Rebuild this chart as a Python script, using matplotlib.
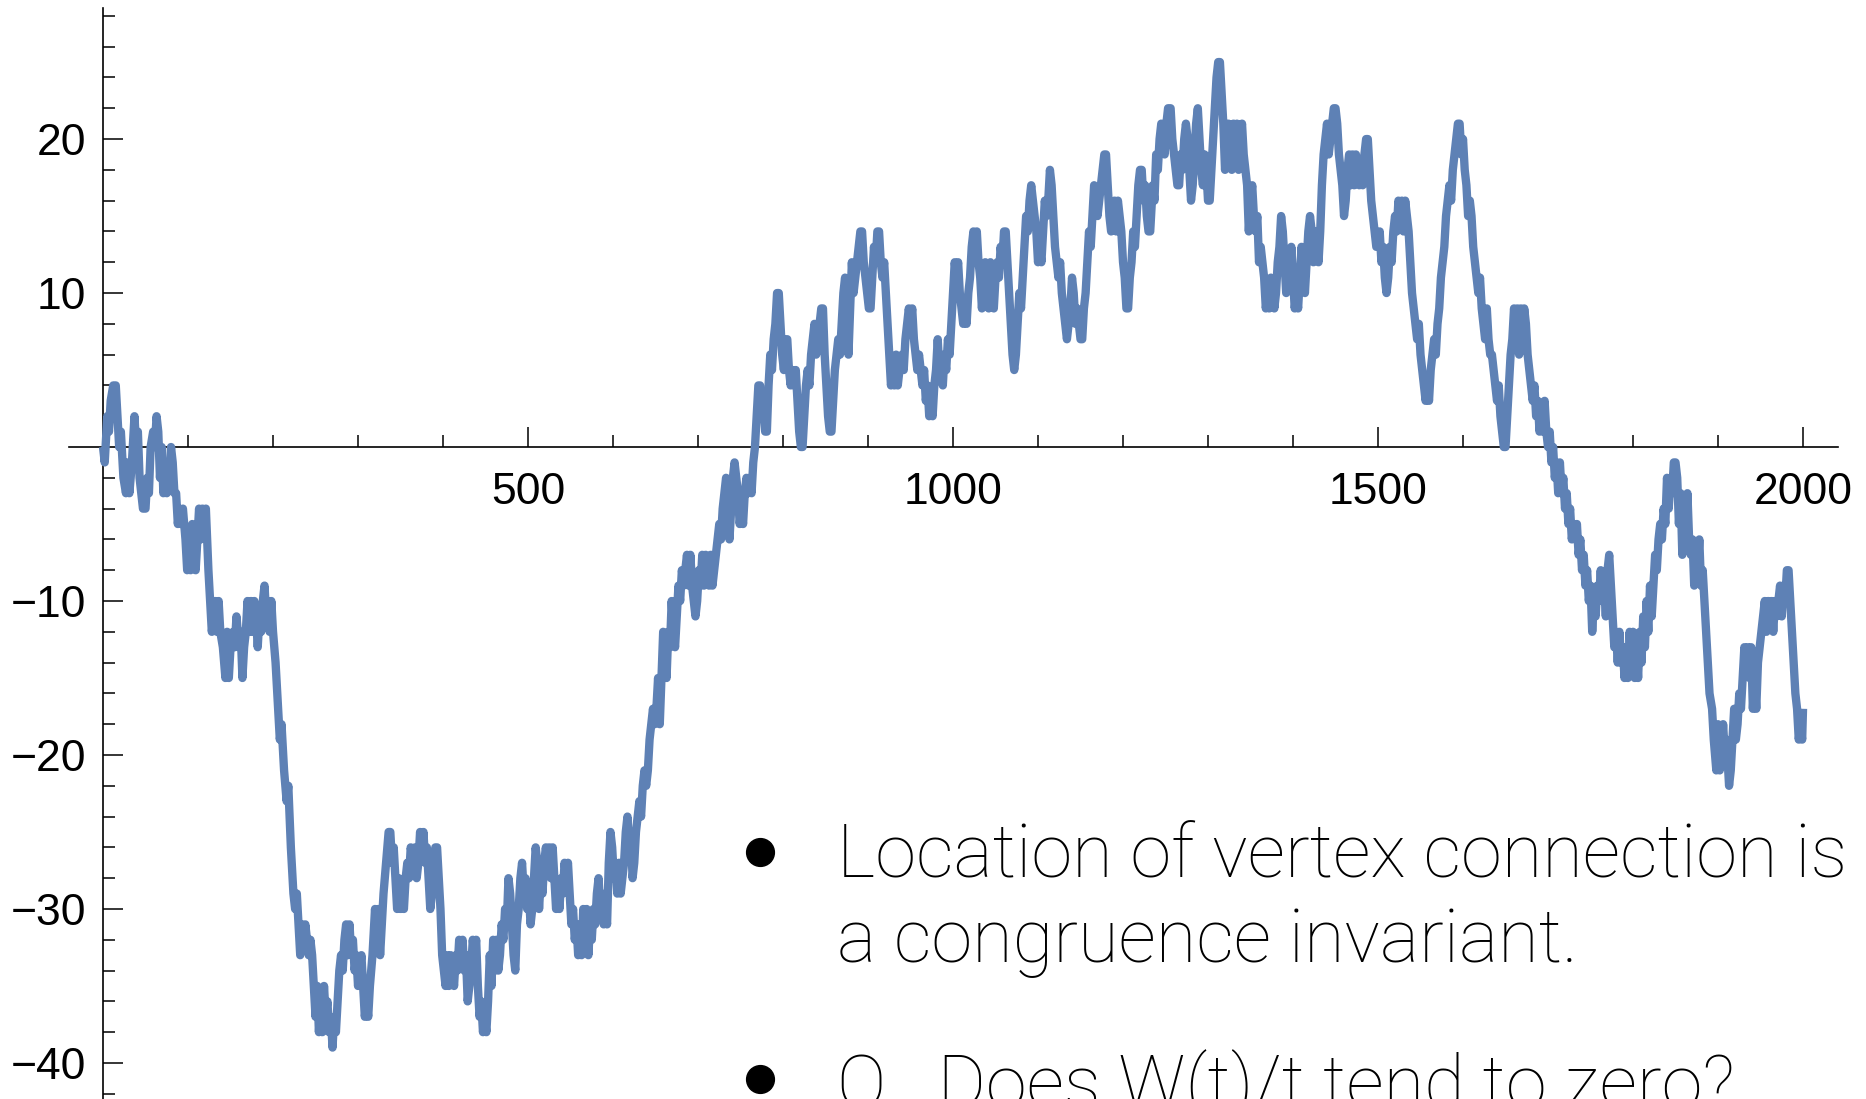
import matplotlib
matplotlib.use("Agg")
import matplotlib.pyplot as plt
from matplotlib.lines import Line2D

# turning points (t, W(t)) of the walk
walk_turns = [
    (0, 0), (2, -1), (5, 2), (7, 1), (9, 3), (12, 4), (15, 4), (17, 2), (19, 0), (21, 1),
    (24, -2), (27, -3), (29, -1), (31, -3), (34, -1), (37, 2), (39, 0), (41, 1), (43, -2), (47, -4),
    (50, -4), (52, -2), (54, -3), (56, 0), (59, 1), (61, 0), (63, 2), (65, 1), (67, -2), (69, 0),
    (71, -3), (73, -1), (75, -3), (78, -2), (80, 0), (82, -1), (84, -3), (86, -3), (88, -5), (90, -4),
    (92, -5), (94, -4), (97, -6), (99, -8), (101, -6), (103, -8), (105, -5), (107, -7), (109, -8), (111, -6),
    (113, -4), (115, -6), (117, -4), (119, -5), (121, -4), (124, -8), (126, -10), (128, -12), (130, -11), (132, -10),
    (134, -12), (136, -10), (138, -12), (141, -13), (144, -15), (146, -12), (148, -15), (150, -13), (153, -12), (155, -13),
    (157, -11), (160, -13), (162, -12), (164, -15), (166, -13), (168, -12), (170, -10), (172, -12), (174, -10), (176, -12),
    (178, -10), (180, -11), (182, -13), (184, -11), (186, -12), (188, -10), (190, -9), (192, -11), (194, -10), (196, -12),
    (198, -10), (200, -12), (203, -14), (206, -17), (208, -19), (210, -18), (213, -21), (216, -23), (218, -22), (221, -26),
    (224, -29), (226, -30), (228, -29), (230, -31), (232, -33), (234, -31), (236, -32), (238, -31), (240, -32), (242, -33),
    (244, -32), (246, -33), (248, -35), (250, -37), (252, -35), (254, -38), (256, -36), (258, -38), (260, -35), (262, -37),
    (264, -36), (266, -38), (268, -37), (270, -39), (272, -37), (274, -38), (276, -36), (278, -34), (280, -33), (282, -34),
    (284, -32), (286, -31), (288, -33), (290, -31), (292, -33), (294, -32), (296, -34), (298, -33), (300, -35), (302, -34),
    (304, -33), (306, -35), (308, -37), (310, -36), (312, -37), (314, -35), (317, -33), (320, -30), (322, -32), (324, -30),
    (326, -33), (328, -31), (330, -29), (333, -27), (336, -25), (338, -25), (340, -27), (342, -26), (344, -28), (346, -30),
    (348, -28), (350, -30), (352, -29), (354, -30), (356, -28), (358, -27), (360, -28), (362, -26), (365, -27), (367, -26),
    (369, -28), (371, -27), (373, -25), (375, -26), (377, -25), (379, -27), (381, -26), (383, -28), (385, -30), (387, -29),
    (389, -27), (391, -26), (393, -26), (395, -28), (397, -30), (399, -33), (401, -34), (403, -35), (405, -33), (407, -35),
    (409, -33), (411, -34), (413, -35), (415, -33), (417, -34), (419, -32), (421, -33), (423, -32), (425, -34), (427, -33),
    (429, -36), (431, -35), (433, -34), (435, -32), (437, -33), (439, -32), (441, -35), (443, -37), (445, -36), (447, -38),
    (449, -37), (451, -38), (453, -36), (455, -33), (457, -35), (459, -32), (461, -34), (463, -32), (465, -34), (467, -33),
    (469, -31), (471, -32), (473, -30), (475, -31), (477, -28), (479, -29), (481, -31), (483, -33), (485, -34), (487, -31),
    (489, -30), (491, -28), (493, -27), (495, -29), (497, -28), (499, -30), (501, -29), (503, -31), (505, -30), (507, -28),
    (509, -26), (511, -27), (513, -30), (515, -28), (517, -29), (519, -27), (521, -26), (523, -27), (525, -26), (527, -28),
    (529, -26), (531, -28), (533, -30), (535, -29), (537, -30), (539, -28), (541, -29), (543, -27), (545, -28), (547, -27),
    (549, -29), (551, -31), (553, -30), (555, -32), (557, -31), (559, -33), (561, -31), (563, -33), (565, -30), (567, -32),
    (569, -30), (571, -33), (573, -31), (575, -32), (577, -30), (579, -31), (581, -29), (583, -28), (585, -30), (587, -29),
    (589, -31), (591, -30), (593, -31), (595, -27), (597, -25), (599, -26), (601, -28), (603, -27), (605, -29), (607, -27),
    (609, -29), (611, -28), (613, -27), (615, -25), (617, -24), (619, -26), (621, -25), (623, -28), (625, -27), (627, -25),
    (629, -24), (631, -23), (633, -24), (635, -22), (637, -21), (639, -22), (641, -21), (643, -19), (645, -18), (647, -17),
    (649, -18), (651, -17), (653, -15), (655, -18), (657, -15), (659, -12), (661, -14), (663, -15), (665, -12), (667, -13),
    (669, -10), (671, -12), (673, -13), (675, -11), (677, -9), (679, -10), (681, -8), (683, -9), (685, -8), (687, -7),
    (689, -9), (691, -7), (693, -9), (695, -10), (697, -11), (699, -10), (701, -8), (703, -9), (705, -7), (707, -9),
    (709, -7), (711, -8), (713, -9), (715, -7), (717, -9), (719, -8), (721, -7), (723, -6), (725, -5), (727, -6),
    (729, -4), (731, -3), (733, -2), (735, -3), (737, -6), (739, -4), (741, -2), (743, -1), (745, -2), (747, -3),
    (749, -5), (751, -4), (753, -5), (755, -3), (757, -2), (759, -3), (761, -2), (763, -3), (765, -1), (767, 0),
    (769, 2), (771, 4), (773, 4), (775, 2), (777, 3), (779, 1), (781, 1), (783, 4), (785, 6), (787, 5),
    (789, 7), (791, 8), (793, 10), (795, 10), (797, 8), (799, 6), (801, 5), (803, 7), (805, 7), (807, 5),
    (809, 4), (811, 5), (813, 4), (815, 5), (817, 3), (819, 1), (821, 0), (823, 0), (825, 2), (827, 4),
    (829, 5), (831, 4), (833, 6), (835, 7), (837, 8), (839, 6), (841, 7), (843, 8), (845, 9), (847, 9),
    (849, 6), (851, 4), (853, 2), (855, 1), (857, 1), (859, 3), (861, 5), (863, 6), (865, 7), (867, 6),
    (869, 8), (871, 10), (873, 11), (875, 8), (877, 6), (879, 9), (881, 12), (883, 10), (885, 11), (887, 12),
    (889, 13), (891, 14), (893, 14), (895, 12), (897, 11), (899, 10), (901, 9), (903, 9), (905, 11), (907, 13),
    (909, 12), (911, 14), (913, 14), (915, 12), (917, 11), (919, 12), (921, 10), (923, 8), (925, 6), (927, 4),
    (929, 5), (931, 4), (933, 6), (935, 4), (937, 5), (940, 6), (942, 5), (944, 7), (946, 8), (948, 9),
    (950, 8), (952, 9), (954, 7), (956, 6), (958, 5), (960, 6), (962, 5), (964, 4), (966, 5), (968, 3),
    (970, 4), (972, 2), (974, 3), (976, 2), (978, 4), (980, 5), (982, 7), (984, 5), (986, 6), (988, 4),
    (990, 6), (992, 5), (994, 7), (996, 6), (998, 8), (1000, 10), (1002, 12), (1004, 11), (1006, 12), (1008, 10),
    (1010, 9), (1012, 8), (1014, 9), (1016, 8), (1018, 10), (1020, 11), (1022, 13), (1024, 14), (1026, 13), (1028, 14),
    (1030, 12), (1032, 11), (1034, 9), (1036, 11), (1038, 12), (1040, 10), (1042, 9), (1044, 12), (1046, 10), (1048, 9),
    (1050, 11), (1052, 12), (1054, 11), (1056, 13), (1058, 12), (1060, 14), (1062, 14), (1064, 12), (1066, 10), (1068, 8),
    (1070, 6), (1072, 5), (1074, 6), (1076, 8), (1078, 10), (1080, 9), (1082, 11), (1084, 13), (1086, 15), (1088, 14),
    (1090, 16), (1092, 17), (1094, 16), (1096, 15), (1098, 14), (1100, 12), (1102, 13), (1104, 12), (1106, 14), (1108, 16),
    (1110, 15), (1112, 16), (1114, 18), (1116, 17), (1118, 15), (1120, 13), (1122, 12), (1124, 11), (1126, 12), (1128, 10),
    (1130, 9), (1132, 8), (1134, 7), (1136, 8), (1138, 9), (1140, 11), (1142, 10), (1144, 8), (1146, 9), (1148, 8),
    (1150, 7), (1152, 7), (1154, 9), (1156, 10), (1158, 12), (1160, 14), (1162, 13), (1164, 15), (1166, 17), (1168, 16),
    (1170, 15), (1172, 16), (1174, 17), (1176, 18), (1178, 19), (1180, 19), (1182, 17), (1184, 15), (1186, 14), (1188, 15),
    (1190, 16), (1192, 14), (1194, 16), (1196, 15), (1198, 14), (1200, 12), (1202, 11), (1204, 9), (1206, 9), (1208, 11),
    (1210, 12), (1212, 14), (1214, 13), (1216, 15), (1218, 17), (1220, 18), (1222, 18), (1224, 16), (1226, 17), (1228, 15),
    (1230, 14), (1232, 14), (1235, 17), (1237, 16), (1239, 19), (1241, 18), (1243, 20), (1245, 21), (1247, 20), (1249, 19),
    (1251, 21), (1253, 22), (1256, 22), (1258, 20), (1260, 19), (1262, 18), (1264, 17), (1266, 17), (1268, 19), (1270, 18),
    (1272, 20), (1274, 21), (1276, 20), (1278, 18), (1280, 16), (1282, 17), (1284, 19), (1286, 21), (1288, 22), (1290, 20),
    (1292, 18), (1294, 17), (1296, 19), (1298, 18), (1300, 16), (1302, 16), (1304, 18), (1306, 20), (1308, 22), (1310, 24),
    (1312, 25), (1314, 25), (1316, 23), (1318, 21), (1320, 18), (1322, 19), (1324, 21), (1326, 20), (1328, 18), (1330, 21),
    (1332, 19), (1334, 21), (1336, 18), (1338, 20), (1340, 21), (1342, 19), (1344, 18), (1346, 17), (1348, 14), (1350, 16),
    (1352, 17), (1354, 15), (1356, 14), (1358, 15), (1360, 12), (1362, 13), (1364, 12), (1366, 11), (1368, 9), (1370, 10),
    (1372, 9), (1374, 11), (1376, 10), (1378, 9), (1380, 10), (1382, 12), (1384, 13), (1386, 15), (1388, 14), (1390, 12),
    (1392, 10), (1394, 12), (1396, 11), (1398, 13), (1400, 11), (1402, 9), (1404, 10), (1406, 9), (1408, 11), (1410, 13),
    (1412, 12), (1414, 10), (1416, 12), (1418, 14), (1420, 15), (1422, 14), (1424, 12), (1426, 14), (1428, 13), (1430, 12),
    (1432, 14), (1434, 17), (1436, 19), (1438, 20), (1440, 21), (1442, 19), (1444, 20), (1446, 21), (1448, 22), (1450, 22),
    (1452, 21), (1454, 19), (1456, 18), (1458, 17), (1460, 15), (1462, 16), (1464, 18), (1466, 19), (1468, 17), (1470, 19),
    (1472, 17), (1474, 19), (1476, 18), (1478, 17), (1480, 18), (1482, 17), (1484, 19), (1486, 20), (1488, 20), (1490, 18),
    (1492, 16), (1494, 15), (1496, 14), (1498, 13), (1500, 13), (1502, 14), (1504, 12), (1506, 13), (1508, 11), (1510, 10),
    (1512, 11), (1514, 13), (1516, 12), (1518, 14), (1520, 15), (1522, 14), (1524, 16), (1526, 15), (1528, 16), (1530, 14),
    (1532, 16), (1534, 15), (1536, 14), (1538, 12), (1540, 10), (1542, 9), (1544, 8), (1546, 7), (1548, 8), (1550, 6),
    (1552, 5), (1554, 4), (1556, 3), (1558, 4), (1560, 3), (1562, 5), (1564, 6), (1566, 7), (1568, 6), (1570, 8),
    (1572, 9), (1574, 11), (1576, 12), (1578, 13), (1580, 15), (1582, 16), (1584, 17), (1586, 16), (1588, 18), (1590, 19),
    (1592, 20), (1594, 21), (1596, 21), (1598, 19), (1600, 20), (1602, 18), (1604, 17), (1606, 15), (1608, 16), (1610, 15),
    (1612, 13), (1614, 12), (1616, 11), (1618, 10), (1620, 11), (1622, 9), (1624, 8), (1626, 7), (1628, 9), (1630, 7),
    (1632, 6), (1634, 6), (1636, 5), (1638, 4), (1640, 3), (1642, 4), (1644, 2), (1646, 1), (1648, 0), (1650, 0),
    (1652, 2), (1654, 4), (1656, 6), (1658, 7), (1660, 9), (1662, 8), (1664, 9), (1666, 6), (1668, 9), (1670, 7),
    (1672, 9), (1674, 8), (1676, 6), (1678, 5), (1680, 4), (1682, 3), (1684, 4), (1686, 2), (1688, 3), (1690, 1),
    (1692, 2), (1694, 1), (1696, 3), (1698, 1), (1700, 0), (1702, 1), (1704, -1), (1706, 0), (1708, -2), (1710, -1),
    (1712, -3), (1714, -1), (1716, -3), (1718, -2), (1720, -4), (1722, -3), (1724, -5), (1726, -4), (1728, -6), (1730, -5),
    (1732, -6), (1734, -5), (1736, -7), (1738, -6), (1740, -8), (1742, -7), (1744, -9), (1746, -8), (1748, -10), (1750, -9),
    (1752, -12), (1754, -10), (1756, -11), (1758, -9), (1760, -10), (1762, -8), (1764, -10), (1766, -9), (1768, -11), (1770, -8),
    (1772, -7), (1774, -9), (1776, -11), (1778, -13), (1780, -12), (1782, -14), (1784, -12), (1786, -14), (1788, -13), (1790, -15),
    (1792, -13), (1794, -15), (1796, -12), (1798, -14), (1800, -12), (1802, -15), (1804, -13), (1806, -15), (1808, -12), (1810, -14),
    (1812, -11), (1814, -13), (1816, -10), (1818, -12), (1820, -9), (1822, -11), (1824, -9), (1826, -7), (1828, -8), (1830, -6),
    (1832, -5), (1834, -6), (1836, -4), (1838, -5), (1840, -2), (1842, -4), (1844, -2), (1846, -3), (1848, -1), (1850, -1),
    (1852, -2), (1854, -5), (1856, -3), (1858, -7), (1860, -4), (1862, -6), (1864, -3), (1866, -6), (1868, -7), (1870, -6),
    (1872, -9), (1874, -7), (1876, -8), (1878, -6), (1880, -9), (1882, -8), (1884, -10), (1887, -13), (1890, -16), (1893, -17),
    (1895, -19), (1898, -21), (1900, -18), (1902, -21), (1904, -20), (1906, -18), (1908, -20), (1910, -19), (1913, -22), (1915, -21),
    (1917, -19), (1919, -17), (1921, -19), (1923, -18), (1925, -16), (1927, -17), (1929, -15), (1931, -13), (1933, -14), (1935, -13),
    (1937, -15), (1939, -13), (1941, -17), (1943, -15), (1945, -17), (1947, -14), (1949, -13), (1951, -12), (1953, -11), (1955, -10),
    (1957, -12), (1959, -10), (1961, -11), (1963, -10), (1965, -12), (1967, -10), (1969, -11), (1971, -10), (1973, -9), (1975, -11),
    (1977, -9), (1979, -10), (1981, -8), (1983, -8), (1985, -10), (1987, -12), (1989, -14), (1991, -16), (1993, -17), (1995, -19),
    (1997, -18), (1999, -19), (2000, -17),
]

x_major = [500, 1000, 1500, 2000]
x_labels = ["500", "1000", "1500", "2000"]
y_major = [-40, -30, -20, -10, 10, 20]
y_labels = ["\u221240", "\u221230", "\u221220", "\u221210", "10", "20"]

bullet_lines = ["Location of vertex connection is", "a congruence invariant.",
                "Q.  Does W(t)/t tend to zero?"]

t_vals = [p[0] for p in walk_turns]
w_vals = [p[1] for p in walk_turns]

fig = plt.figure(figsize=(18.66, 10.99), dpi=100)
ax = fig.add_axes([0, 0, 1, 1])

ax.plot(t_vals, w_vals, color="#5E81B5", linewidth=6.0,
        solid_joinstyle="round", solid_capstyle="butt", zorder=3)

ax.set_xlim(-121.2, 2074.1)
ax.set_ylim(-42.34, 29.03)

# axes through the origin, Mathematica style
for side in ["top", "right"]:
    ax.spines[side].set_visible(False)
ax.spines["left"].set_position(("data", 0))
ax.spines["bottom"].set_position(("data", 0))
ax.spines["left"].set_bounds(-43, 28.5)
ax.spines["bottom"].set_bounds(-40, 2041)
for side in ["left", "bottom"]:
    ax.spines[side].set_linewidth(1.2)
    ax.spines[side].set_zorder(2)

ax.set_xticks(x_major)
ax.set_xticklabels(x_labels)
ax.set_xticks([v for v in range(100, 2001, 100) if v not in x_major], minor=True)
ax.set_yticks(y_major)
ax.set_yticklabels(y_labels)
ax.set_yticks([v for v in range(-42, 29, 2) if v not in y_major and v != 0], minor=True)

ax.tick_params(which="both", direction="in", width=1.1, color="black")
ax.tick_params(which="major", length=14.5)
ax.tick_params(which="minor", length=8.5)
ax.tick_params(axis="x", which="major", pad=18)
ax.tick_params(axis="y", which="major", pad=12)
for lab in ax.get_xticklabels() + ax.get_yticklabels():
    lab.set_family("Liberation Sans")
    lab.set_fontsize(32)

# slide text in the lower right (the last line runs off the bottom, as in the slide)
W, H = 1866.0, 1099.0
text_x = 837 / W
baselines = [877, 962, 1108]
for txt, yb in zip(bullet_lines, baselines):
    fig.text(text_x, 1 - yb / H, txt, family=["Roboto", "DejaVu Sans"],
             fontweight="light", fontsize=53.3, va="baseline", ha="left", color="black")
for yb in [852, 1079]:
    fig.add_artist(Line2D([760 / W], [1 - yb / H], marker="o", markersize=20,
                          color="black", transform=fig.transFigure))

fig.savefig("out.png", dpi=100)
